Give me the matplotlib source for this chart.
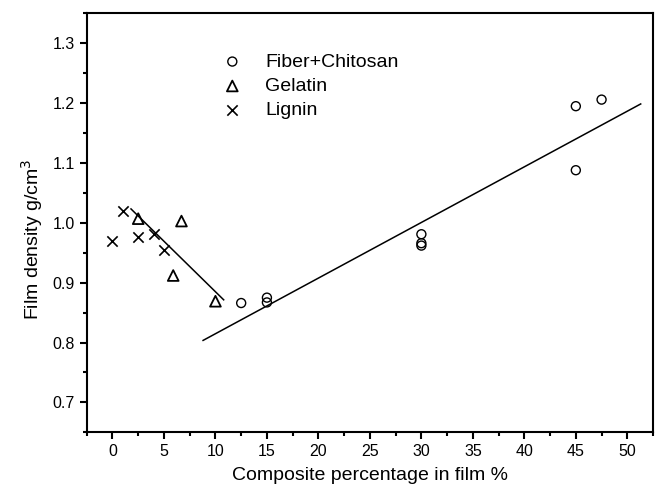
import numpy as np
import matplotlib
matplotlib.use("Agg")
import matplotlib.pyplot as plt
from matplotlib.ticker import MultipleLocator, FormatStrFormatter

plt.rcParams['font.family'] = ['Liberation Sans', 'DejaVu Sans']

# Fiber + chitosan films
fiber_x = [12.5, 15, 15, 30, 30, 30, 45, 45, 47.5]
fiber_y = [0.866, 0.875, 0.867, 0.981, 0.966, 0.962, 1.195, 1.088, 1.206]

# Gelatin films
gelatin_x = [2.5, 6.7, 5.9, 10]
gelatin_y = [1.007, 1.003, 0.912, 0.869]

# Lignin films
lignin_x = [0, 1, 2.5, 4, 5]
lignin_y = [0.969, 1.020, 0.977, 0.982, 0.955]

fig = plt.figure(figsize=(6.57, 4.98), dpi=100)
ax = fig.add_axes([0.132, 0.132, 0.862, 0.841])

ax.scatter(fiber_x, fiber_y, s=42, marker='o', facecolors='none',
           edgecolors='black', linewidths=1.0, label='Fiber+Chitosan', zorder=3)
ax.scatter(gelatin_x, gelatin_y, s=60, marker='^', facecolors='none',
           edgecolors='black', linewidths=1.3, label='Gelatin', zorder=3)
ax.scatter(lignin_x, lignin_y, s=55, marker='x', color='black',
           linewidths=1.2, label='Lignin', zorder=3)

# Linear fits
k1, b1 = np.polyfit(fiber_x, fiber_y, 1)
xf = np.array([8.8, 51.3])
ax.plot(xf, k1 * xf + b1, color='black', lw=1.1)

k2, b2 = np.polyfit(gelatin_x, gelatin_y, 1)
xg = np.array([1.8, 10.8])
ax.plot(xg, k2 * xg + b2, color='black', lw=1.1)

ax.set_xlim(-2.5, 52.5)
ax.set_ylim(0.65, 1.35)
ax.xaxis.set_major_locator(MultipleLocator(5))
ax.xaxis.set_minor_locator(MultipleLocator(2.5))
ax.yaxis.set_major_locator(MultipleLocator(0.1))
ax.yaxis.set_minor_locator(MultipleLocator(0.05))
ax.yaxis.set_major_formatter(FormatStrFormatter('%.1f'))

ax.tick_params(which='both', direction='out', top=False, right=False,
               width=1.5, labelsize=11.5)
ax.tick_params(which='major', length=5)
ax.tick_params(which='minor', length=3)
for s in ax.spines.values():
    s.set_linewidth(1.5)

ax.set_xlabel('Composite percentage in film %', fontsize=14, labelpad=6)
ax.set_ylabel('Film density g/cm$^3$', fontsize=14)
ax.yaxis.set_label_coords(-0.074, 0.46)

ax.legend(loc='upper left', bbox_to_anchor=(0.324, 0.913),
          bbox_transform=fig.transFigure, frameon=False, borderpad=0,
          fontsize=14, handlelength=1.0, handletextpad=1.2, labelspacing=0.35)

fig.savefig('out.png', dpi=100)
